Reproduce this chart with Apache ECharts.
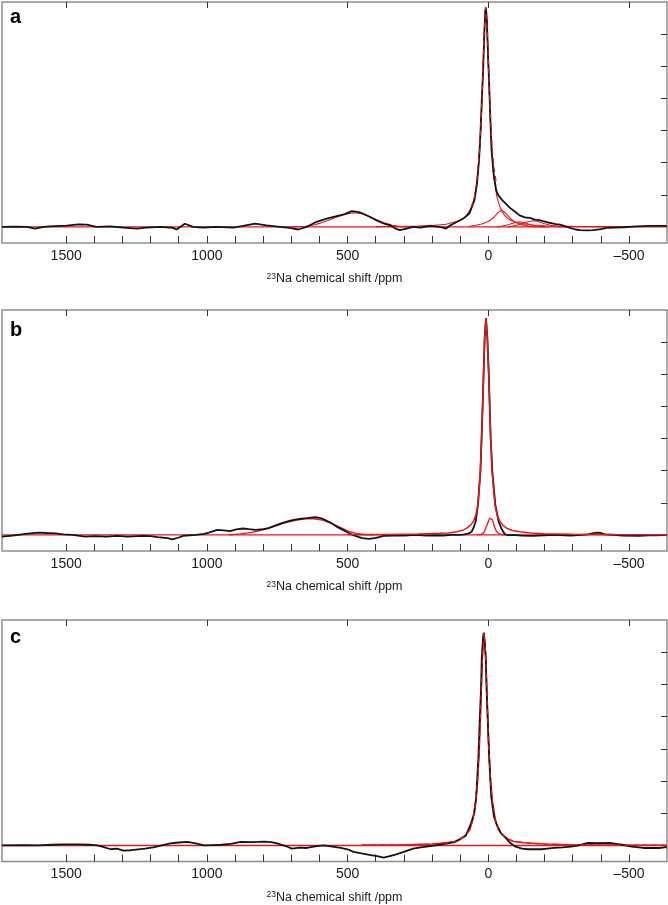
<!DOCTYPE html>
<html><head><meta charset="utf-8">
<script src="https://cdn.jsdelivr.net/npm/echarts@6/dist/echarts.min.js"></script>
<style>html,body{margin:0;padding:0;background:#fff}#chart{width:668px;height:905px}</style>
</head><body><div id="chart"></div>
<script>
// ---- axis definitions ----
const shiftMin = -635, shiftMax = 1728;
const majorTicks = [1500, 1000, 500, 0, -500];
const minorTicks = [1500,1400,1300,1200,1100,1000,900,800,700,600,500,400,300,200,100,0,-100,-200,-300,-400,-500];
const intensityTicks = [1, 2, 3, 4, 5, 6];
const panelLabels = ['a', 'b', 'c'];
const axisTitle = '{s|23}{n|Na chemical shift /ppm}';

// ---- panel a ----
const aExperimental = [[1728,0],[1680,0.01],[1640,0],[1611,-0.05],[1580,0],[1558,0.02],[1498,0.04],[1457,0.08],[1427,0.07],[1392,0],[1344,0.02],[1297,-0.02],[1250,-0.05],[1214,-0.02],[1167,0],[1120,-0.03],[1108,-0.08],[1078,0.1],[1049,0],[1013,-0.02],[966,0],[906,-0.02],[871,0.03],[829,0.1],[788,0.05],[740,0],[705,-0.03],[675,-0.08],[646,0],[610,0.16],[574,0.26],[539,0.34],[510,0.4],[485,0.49],[460,0.46],[444,0.41],[420,0.31],[397,0.2],[370,0.1],[349,0.05],[330,-0.05],[314,-0.1],[290,-0.05],[268,0],[240,-0.02],[207,0.03],[180,0.01],[160,-0.02],[150,-0.05],[135,0.05],[124,0.1],[102,0.2],[89,0.26],[67,0.42],[55,0.7],[49,0.85],[40,1.35],[33,2.07],[28,2.9],[23,3.95],[18,4.98],[14,6.02],[11,6.72],[8.5,6.83],[5,6.43],[1.6,5.5],[-3,4.47],[-7,3.43],[-11.6,2.39],[-18.7,1.67],[-28,1.14],[-35.5,0.99],[-45,0.88],[-53,0.8],[-60,0.76],[-76,0.6],[-83,0.57],[-100,0.44],[-111,0.36],[-130,0.3],[-148,0.28],[-165,0.23],[-182,0.21],[-195,0.18],[-217,0.13],[-240,0.09],[-255,0.07],[-275,0.02],[-290,-0.03],[-310,-0.08],[-326,-0.1],[-350,-0.11],[-373,-0.1],[-400,-0.07],[-421,-0.03],[-450,-0.02],[-480,-0.01],[-527,0.02],[-575,0.03],[-634,0.03]];
const aMainFit = [[400,0.011],[300,0.02],[250,0.03],[200,0.047],[150,0.085],[100,0.2],[80,0.32],[60,0.6],[50,0.88],[40,1.41],[30,2.46],[25,3.35],[20,4.55],[15,5.87],[12,6.47],[9,6.7],[6,6.47],[3,5.87],[0,5.09],[-5,3.8],[-10,2.78],[-15,2.06],[-20,1.56],[-30,0.96],[-40,0.65],[-50,0.46],[-60,0.34],[-70,0.26],[-80,0.21],[-100,0.14],[-120,0.1],[-140,0.076],[-160,0.06],[-200,0.039],[-250,0.025],[-300,0.018],[-400,0.01],[-500,0.007]];
const aSite2Fit = [[70,0],[60,0.03],[40,0.06],[20,0.1],[0,0.17],[-20,0.3],[-35,0.45],[-47,0.52],[-60,0.44],[-75,0.3],[-90,0.18],[-110,0.09],[-130,0.04],[-160,0.01],[-200,0]];
const aSite3Fit = [[-30,0],[-50,0.03],[-70,0.07],[-90,0.12],[-110,0.16],[-130,0.13],[-150,0.07],[-175,0.02],[-210,0]];
const aSite4Fit = [[-70,0],[-100,0.05],[-120,0.1],[-140,0.16],[-160,0.19],[-180,0.16],[-200,0.1],[-220,0.05],[-250,0.01],[-280,0]];
const aBroadFit = [[700,0],[650,0.02],[620,0.06],[600,0.11],[570,0.2],[540,0.3],[510,0.39],[480,0.44],[450,0.41],[420,0.32],[400,0.24],[370,0.13],[340,0.05],[310,0.01],[280,0]];
const aSumFit = [[60,0.63],[50,0.92],[40,1.47],[30,2.54],[25,3.44],[20,4.65],[15,5.98],[12,6.59],[9,6.83],[6,6.61],[3,6.02],[0,5.26],[-5,4.0],[-10,3.01],[-15,2.32],[-20,1.86],[-30,1.3]];

// ---- panel b ----
const bExperimental = [[1728,-0.05],[1690,-0.02],[1645,0.03],[1599,0.07],[1570,0.06],[1539,0.05],[1510,0.02],[1478,0],[1433,-0.05],[1400,-0.04],[1357,-0.05],[1320,-0.03],[1281,-0.05],[1228,-0.03],[1200,-0.04],[1175,-0.07],[1140,-0.1],[1122,-0.14],[1100,-0.08],[1084,-0.03],[1060,-0.01],[1039,0],[1010,0.03],[993,0.07],[963,0.16],[940,0.14],[918,0.12],[895,0.17],[872,0.2],[850,0.18],[827,0.16],[800,0.18],[781,0.21],[760,0.28],[736,0.36],[710,0.43],[691,0.47],[670,0.5],[645,0.52],[630,0.54],[615,0.55],[600,0.53],[585,0.49],[560,0.38],[539,0.26],[515,0.15],[494,0.05],[470,-0.04],[448,-0.1],[425,-0.12],[403,-0.1],[385,-0.06],[372,-0.03],[330,-0.02],[297,-0.02],[260,0],[221,-0.02],[190,-0.01],[161,-0.02],[130,0],[100,0],[85,0.02],[70,0.05],[59,0.1],[53,0.21],[45,0.41],[37,0.93],[28,1.97],[24,3.0],[20,4.05],[16.5,5.09],[13,6.13],[8.2,6.75],[3.4,6.13],[-1.3,5.09],[-4.9,4.05],[-8.4,3.01],[-14.4,1.97],[-25,0.93],[-37,0.41],[-46,0.21],[-58,0.03],[-70,-0.01],[-82,0],[-120,-0.02],[-157,-0.03],[-200,-0.01],[-233,0],[-294,-0.02],[-330,0],[-354,0.02],[-370,0.05],[-385,0.07],[-400,0.06],[-415,0.02],[-445,0],[-475,-0.02],[-536,-0.03],[-570,-0.01],[-596,-0.01],[-634,0]];
const bMainFit = [[500,0.01],[350,0.015],[250,0.03],[171.7,0.05],[140,0.06],[112.5,0.1],[90,0.15],[76.8,0.21],[65,0.29],[53.2,0.41],[45,0.6],[36.6,0.93],[28.3,1.97],[23.6,3.01],[20,4.05],[16.5,5.09],[12.9,6.13],[8.2,6.75],[3.4,6.13],[-1.3,5.09],[-4.9,4.05],[-8.4,3.01],[-13.2,1.97],[-23.8,0.93],[-32,0.6],[-41.6,0.41],[-53,0.29],[-65.3,0.21],[-85,0.14],[-112.7,0.1],[-150,0.06],[-200,0.04],[-300,0.02],[-450,0.01],[-634,0.005]];
const bSite2Fit = [[40,0],[25,0.02],[15,0.08],[6,0.28],[0,0.42],[-5,0.52],[-10,0.57],[-15,0.47],[-20,0.3],[-28,0.12],[-38,0.04],[-50,0.01],[-65,0]];
const bBroadFit = [[920,0],[880,0.03],[840,0.08],[800,0.16],[760,0.27],[720,0.38],[680,0.46],[650,0.5],[620,0.5],[590,0.46],[560,0.37],[530,0.25],[500,0.13],[470,0.05],[440,0.01],[410,0]];

// ---- panel c ----
const cExperimental = [[1728,0],[1650,0.01],[1599,0],[1550,0.02],[1508,0.03],[1460,0.03],[1417,0.02],[1390,0],[1372,-0.04],[1342,-0.12],[1320,-0.1],[1296,-0.16],[1270,-0.15],[1251,-0.13],[1220,-0.1],[1190,-0.06],[1160,0],[1130,0.06],[1100,0.09],[1069,0.11],[1040,0.06],[1009,0],[980,0.01],[948,0.02],[915,0.05],[880,0.11],[840,0.1],[797,0.12],[770,0.1],[751,0.06],[720,-0.02],[698,-0.1],[670,-0.07],[645,-0.08],[615,-0.03],[585,0],[560,-0.03],[524,-0.08],[500,-0.12],[479,-0.2],[450,-0.25],[418,-0.3],[395,-0.33],[372,-0.38],[350,-0.33],[327,-0.28],[300,-0.2],[267,-0.1],[240,-0.06],[206,-0.02],[175,0.02],[145,0.06],[120,0.1],[100,0.19],[80,0.3],[62,0.67],[50,0.99],[43,1.5],[35,2.75],[31,3.79],[26,4.83],[23,5.87],[19,6.4],[16.7,6.6],[13,6.3],[9.2,5.87],[6,4.83],[1.5,3.79],[-3,2.75],[-10.6,1.5],[-20,0.9],[-28.8,0.67],[-45,0.38],[-59,0.26],[-75,0.1],[-97,-0.04],[-120,-0.1],[-142,-0.12],[-165,-0.12],[-188,-0.12],[-210,-0.1],[-233,-0.08],[-265,-0.06],[-294,-0.04],[-320,0],[-354,0.08],[-390,0.07],[-430,0.08],[-455,0.05],[-475,0.02],[-510,-0.04],[-551,-0.08],[-580,-0.08],[-612,-0.08],[-634,-0.05]];
const cMainFit = [[450,0.01],[300,0.02],[200,0.04],[150,0.08],[120,0.12],[100,0.2],[80,0.32],[65,0.5],[55,0.8],[45,1.35],[38,2.0],[32,3.0],[27,4.2],[22,5.6],[18,6.3],[15,6.6],[12,6.3],[8,5.6],[3,4.2],[-2,3.0],[-8,2.0],[-15,1.35],[-25,0.8],[-35,0.5],[-50,0.32],[-70,0.2],[-90,0.12],[-130,0.08],[-200,0.04],[-300,0.02],[-450,0.01],[-634,0.005]];

const baselineFit = [[shiftMax,0],[shiftMin,0]];

// ---- layout ----
const FONT = "'Liberation Sans', Arial, Helvetica, sans-serif";
const BLACK = '#141414', RED = '#e3191c';
const grids = [
  {left: 2, right: 1, top: 2, height: 241},
  {left: 2, right: 1, top: 310, height: 241},
  {left: 2, right: 1, top: 620, height: 242}
];
const letterTops = [7, 320, 627];

const xAxes = [], yAxes = [];
grids.forEach((g, i) => {
  xAxes.push({
    type: 'value', gridIndex: i, position: 'bottom', min: shiftMin, max: shiftMax, inverse: true,
    axisLine: {show: false, onZero: false}, splitLine: {show: false},
    axisTick: {show: true, inside: true, length: 7, lineStyle: {color: '#333', width: 1}, customValues: minorTicks},
    axisLabel: {show: true, margin: 6, fontSize: 14, color: '#1a1a1a', fontFamily: FONT, customValues: majorTicks,
      formatter: v => v < 0 ? '\u2013' + Math.abs(v) : String(v)},
    name: axisTitle, nameLocation: 'middle', nameGap: 29,
    nameTextStyle: {rich: {
      s: {fontSize: 8.5, fontFamily: FONT, color: '#1a1a1a', verticalAlign: 'top', lineHeight: 14},
      n: {fontSize: 12.5, fontFamily: FONT, color: '#1a1a1a', lineHeight: 14}
    }}
  });
  xAxes.push({
    type: 'value', gridIndex: i, position: 'top', min: shiftMin, max: shiftMax, inverse: true,
    axisLine: {show: false, onZero: false}, splitLine: {show: false},
    axisTick: {show: true, inside: true, length: 6, lineStyle: {color: '#333', width: 1}, customValues: majorTicks},
    axisLabel: {show: false}
  });
  yAxes.push({
    type: 'value', gridIndex: i, position: 'right', min: -0.5, max: 7,
    axisLine: {show: false, onZero: false}, splitLine: {show: false},
    axisTick: {show: true, inside: true, length: 6, lineStyle: {color: '#333', width: 1}, customValues: intensityTicks},
    axisLabel: {show: false}
  });
});

function line(panel, data, color, width, z, dashed) {
  return {
    type: 'line', xAxisIndex: panel * 2, yAxisIndex: panel, data: data,
    showSymbol: false, symbol: 'none', silent: true, animation: false, z: z,
    lineStyle: {color: color, width: width, type: dashed ? [5, 4] : 'solid'}
  };
}

const series = [
  line(0, baselineFit, RED, 1.3, 2),
  line(0, aBroadFit, RED, 1.1, 3),
  line(0, aMainFit, RED, 1.1, 3),
  line(0, aSite2Fit, RED, 1.1, 3),
  line(0, aSite3Fit, RED, 1.1, 3),
  line(0, aSite4Fit, RED, 1.1, 3),
  line(0, aExperimental, BLACK, 1.8, 4),
  line(0, aSumFit, RED, 1.2, 5, true),

  line(1, baselineFit, RED, 1.3, 2),
  line(1, bBroadFit, RED, 1.3, 3),
  line(1, bSite2Fit, RED, 1.3, 3),
  line(1, bExperimental, BLACK, 1.8, 4),
  line(1, bMainFit, RED, 1.5, 5),

  line(2, baselineFit, RED, 1.5, 2),
  line(2, cMainFit, RED, 1.5, 3),
  line(2, cExperimental, BLACK, 1.8, 4),
  line(2, cMainFit, RED, 1.2, 5, true)
];

const chart = echarts.init(document.getElementById('chart'), null, {renderer: 'canvas'});
chart.setOption({
  animation: false,
  backgroundColor: '#fff',
  grid: grids.map(g => Object.assign({show: true, borderColor: '#8e8e8e', borderWidth: 1.5, backgroundColor: 'transparent'}, g)),
  xAxis: xAxes,
  yAxis: yAxes,
  graphic: panelLabels.map((t, i) => ({
    type: 'text', left: 10, top: letterTops[i], z: 10,
    style: {text: t, font: 'bold 20px ' + FONT, fill: '#000'}
  })),
  series: series
});
</script>
</body></html>
